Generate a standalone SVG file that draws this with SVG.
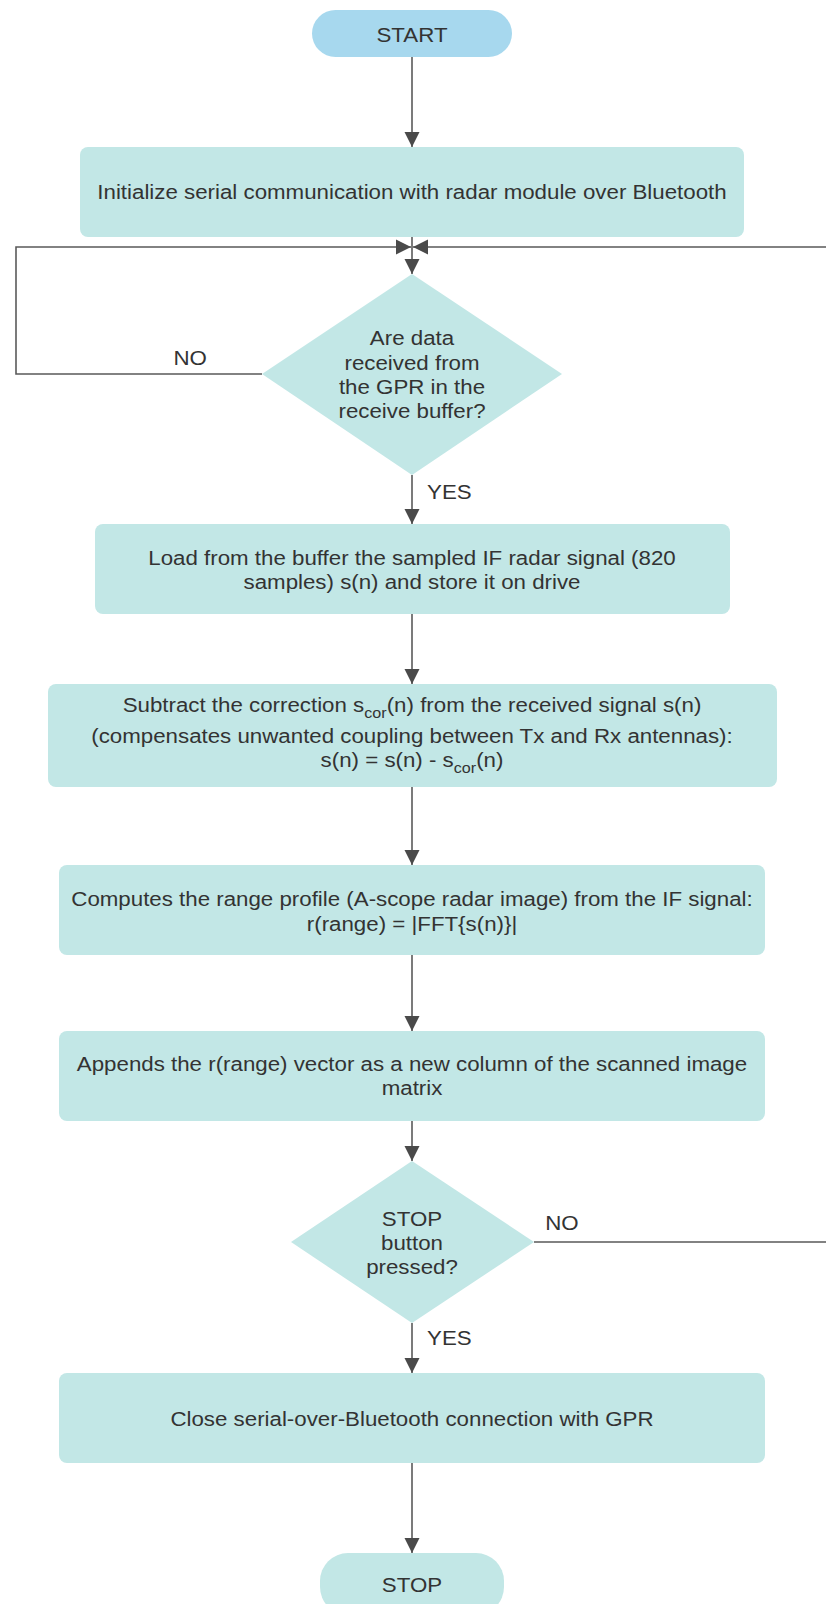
<svg xmlns="http://www.w3.org/2000/svg" width="826" height="1604" viewBox="0 0 826 1604">
<style>
.proc{fill:#c2e7e6}
.term{fill:#a7d8ee}
.t{font-family:"Liberation Sans",Arial,sans-serif;font-size:20px;fill:#333333;text-anchor:middle}
.ts{text-anchor:start}
.sub{font-size:14.5px}
.c{fill:none;stroke:#5a5a5a;stroke-width:1.6}
</style>
<defs>
<marker id="ah" markerWidth="16" markerHeight="16" refX="15" refY="8" orient="auto" markerUnits="userSpaceOnUse">
<path d="M0,0.5 L15,8 L0,15.5 z" fill="#4a4a4a"/>
</marker>
</defs>
<rect width="826" height="1604" fill="#ffffff"/>
<g id="connectors">
<path class="c" d="M412,57 V147" marker-end="url(#ah)"/>
<path class="c" d="M412,237 V274" marker-end="url(#ah)"/>
<path class="c" d="M262,374 H16 V247 H411" marker-end="url(#ah)"/>
<path class="c" d="M534,1242 H834 V247 H413" marker-end="url(#ah)"/>
<path class="c" d="M412,475 V524" marker-end="url(#ah)"/>
<path class="c" d="M412,614 V684" marker-end="url(#ah)"/>
<path class="c" d="M412,787 V865" marker-end="url(#ah)"/>
<path class="c" d="M412,955 V1031" marker-end="url(#ah)"/>
<path class="c" d="M412,1121 V1161" marker-end="url(#ah)"/>
<path class="c" d="M412,1323 V1373" marker-end="url(#ah)"/>
<path class="c" d="M412,1463 V1553" marker-end="url(#ah)"/>
<g transform="translate(412 0) scale(1.115 1)">
<text class="t" x="-199" y="365">NO</text>
<text class="t ts" x="13.5" y="499">YES</text>
<text class="t ts" x="119.5" y="1230">NO</text>
<text class="t ts" x="13.5" y="1345">YES</text>
</g>
</g>
<g id="start">
<rect class="term" x="312" y="10" width="200" height="47" rx="23.5"/>
<g transform="translate(412 0) scale(1.115 1)"><text class="t" x="0" y="42">START</text></g>
</g>
<g id="init">
<rect class="proc" x="80" y="147" width="664" height="90" rx="8"/>
<g transform="translate(412 0) scale(1.115 1)"><text class="t" x="0" y="199">Initialize serial communication with radar module over Bluetooth</text></g>
</g>
<g id="check-data">
<polygon class="proc" points="412,274 562,374 412,475 262,374"/>
<g transform="translate(412 0) scale(1.115 1)">
<text class="t" x="0" y="345">Are data</text>
<text class="t" x="0" y="370">received from</text>
<text class="t" x="0" y="394">the GPR in the</text>
<text class="t" x="0" y="418">receive buffer?</text>
</g>
</g>
<g id="load">
<rect class="proc" x="95" y="524" width="635" height="90" rx="8"/>
<g transform="translate(412 0) scale(1.115 1)">
<text class="t" x="0" y="565">Load from the buffer the sampled IF radar signal (820</text>
<text class="t" x="0" y="589">samples) s(n) and store it on drive</text>
</g>
</g>
<g id="subtract">
<rect class="proc" x="48" y="684" width="729" height="103" rx="8"/>
<g transform="translate(412 0) scale(1.115 1)">
<text class="t" x="0" y="712">Subtract the correction s<tspan class="sub" dy="6">cor</tspan><tspan dy="-6">(n) from the received signal s(n)</tspan></text>
<text class="t" x="0" y="743">(compensates unwanted coupling between Tx and Rx antennas):</text>
<text class="t" x="0" y="767">s(n) = s(n) - s<tspan class="sub" dy="6">cor</tspan><tspan dy="-6">(n)</tspan></text>
</g>
</g>
<g id="compute">
<rect class="proc" x="59" y="865" width="706" height="90" rx="8"/>
<g transform="translate(412 0) scale(1.115 1)">
<text class="t" x="0" y="906">Computes the range profile (A-scope radar image) from the IF signal:</text>
<text class="t" x="0" y="931">r(range) = |FFT{s(n)}|</text>
</g>
</g>
<g id="append">
<rect class="proc" x="59" y="1031" width="706" height="90" rx="8"/>
<g transform="translate(412 0) scale(1.115 1)">
<text class="t" x="0" y="1071">Appends the r(range) vector as a new column of the scanned image</text>
<text class="t" x="0" y="1095">matrix</text>
</g>
</g>
<g id="check-stop">
<polygon class="proc" points="412,1161 534,1242 412,1323 291,1242"/>
<g transform="translate(412 0) scale(1.115 1)">
<text class="t" x="0" y="1226">STOP</text>
<text class="t" x="0" y="1250">button</text>
<text class="t" x="0" y="1274">pressed?</text>
</g>
</g>
<g id="close">
<rect class="proc" x="59" y="1373" width="706" height="90" rx="8"/>
<g transform="translate(412 0) scale(1.115 1)"><text class="t" x="0" y="1426">Close serial-over-Bluetooth connection with GPR</text></g>
</g>
<g id="stop">
<rect class="proc" x="320" y="1553" width="184" height="62" rx="28"/>
<g transform="translate(412 0) scale(1.115 1)"><text class="t" x="0" y="1592">STOP</text></g>
</g>
</svg>
